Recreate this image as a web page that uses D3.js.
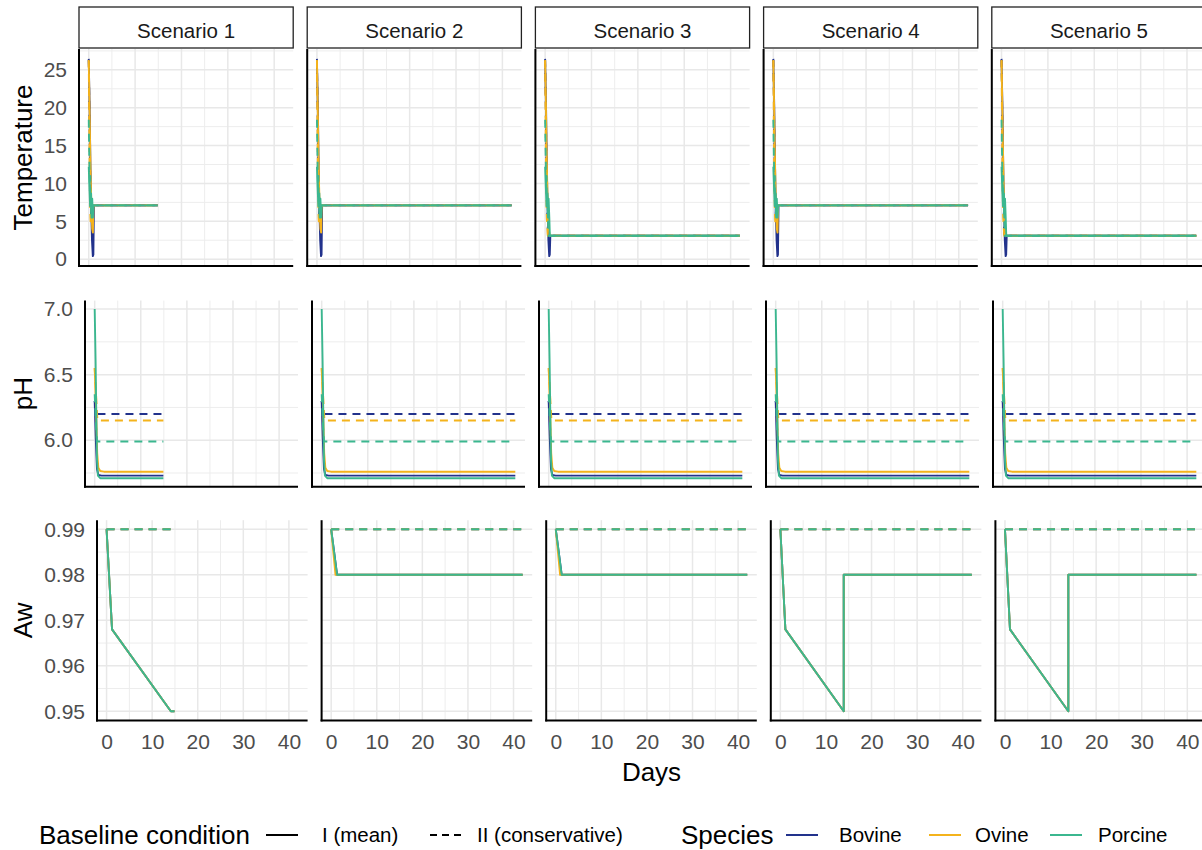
<!DOCTYPE html>
<html><head><meta charset="utf-8">
<script src="https://cdn.jsdelivr.net/npm/d3@7"></script>
<style>
html,body{margin:0;padding:0;background:#fff;}
svg{display:block;font-family:"Liberation Sans",Arial,sans-serif;}
</style></head><body>
<svg id="chart" width="1202" height="850"></svg>
<script>
// ---------------- DATA ----------------
const scenarios = ["Scenario 1","Scenario 2","Scenario 3","Scenario 4","Scenario 5"];
const speciesNames = ["Bovine","Ovine","Porcine"];
const conditionNames = ["I (mean)","II (conservative)"];
const scenarioEndDay = [14.9, 42, 42, 42, 42];
const storageTemp = [7.1, 7.1, 3.1, 7.1, 3.1];

const dayTicks = [0,10,20,30,40];
const tempTicks = [0,5,10,15,20,25];
const phTicks = [6.0,6.5,7.0];
const awTicks = [0.95,0.96,0.97,0.98,0.99];

// Temperature cooling profiles [day, temperature] (before storage)
const tempBovineI   = [[0,26.3],[0.2,20],[0.35,13],[0.5,7.5],[0.7,2.5],[0.88,0.4],[1.0,0.6]];
const tempBovineII  = [[0,26.45],[0.08,23],[0.16,19],[0.24,15],[0.32,11],[0.4,8],[0.48,6]];
const tempOvineI    = [[0,26.2],[0.15,21],[0.3,15],[0.45,10],[0.6,6.5],[0.75,4],[0.9,3.5]];
const tempOvineII   = [[0,26.3],[0.06,22],[0.12,17],[0.2,12],[0.28,8],[0.36,5.5],[0.45,4.5]];
const tempPorcineI  = [[0,12.2],[0.15,9.5],[0.3,7],[0.45,8.5],[0.6,5.5],[0.75,8],[0.9,5.5]];
const tempPorcineII = [[0,18.4],[0.08,15],[0.16,12],[0.24,9],[0.32,11],[0.4,7.5],[0.5,9],[0.6,6]];

// pH decline profiles [day, pH] (final value held to end)
const phBovineI   = [[0,6.3],[0.25,6.0],[0.5,5.78],[0.8,5.735],[1.5,5.73]];
const phBovineII  = [[0,6.3],[0.3,6.22],[0.45,6.2]];
const phOvineI    = [[0,6.55],[0.3,6.25],[0.55,5.9],[0.8,5.79],[1.2,5.765],[2,5.76]];
const phOvineII   = [[0,6.55],[0.3,6.35],[0.6,6.15]];
const phPorcineI  = [[0,7.0],[0.2,6.6],[0.35,6.2],[0.5,5.85],[0.7,5.73],[1.2,5.71]];
const phPorcineII = [[0,6.35],[0.3,6.1],[0.5,6.0],[0.7,5.99]];

// Water activity, mean condition, per scenario [day, aw]
const awMeanS1 = [[0,0.99],[1.2,0.968],[14.1,0.95],[14.9,0.95]];
const awMeanS2 = [[0,0.99],[1.3,0.98],[42,0.98]];
const awMeanS3 = [[0,0.99],[1.3,0.98],[42,0.98]];
const awMeanS4 = [[0,0.99],[1.1,0.968],[13.9,0.95],[13.9,0.98],[42,0.98]];
const awMeanS5 = [[0,0.99],[1.1,0.968],[13.9,0.95],[13.9,0.98],[42,0.98]];
const awOvineS2 = [[0,0.99],[0.95,0.98],[42,0.98]];
const awOvineS3 = [[0,0.99],[0.95,0.98],[42,0.98]];
const awConservative = 0.99;

// ---------------- BUILD SERIES ----------------
function tempSeries(profile, s){
  const st = storageTemp[s], last = profile[profile.length-1][0];
  return profile.concat([[last+0.12, st],[scenarioEndDay[s], st]]);
}
function holdSeries(profile, s){
  const v = profile[profile.length-1][1];
  return profile.concat([[scenarioEndDay[s], v]]);
}
const awMean = [awMeanS1, awMeanS2, awMeanS3, awMeanS4, awMeanS5];
const awOvine = [awMeanS1, awOvineS2, awOvineS3, awMeanS4, awMeanS5];

function seriesFor(rowKey, s){
  const out = [];
  if(rowKey==="temp"){
    const p = [[tempBovineI,tempBovineII],[tempOvineI,tempOvineII],[tempPorcineI,tempPorcineII]];
    p.forEach((pair,sp)=>pair.forEach((prof,c)=>out.push({sp, c, pts: tempSeries(prof,s)})));
  } else if(rowKey==="ph"){
    const p = [[phBovineI,phBovineII],[phOvineI,phOvineII],[phPorcineI,phPorcineII]];
    p.forEach((pair,sp)=>pair.forEach((prof,c)=>out.push({sp, c, pts: holdSeries(prof,s)})));
  } else {
    const cons = [[0,awConservative],[scenarioEndDay[s],awConservative]];
    const means = [awMean[s], awOvine[s], awMean[s]];
    means.forEach((m,sp)=>{ out.push({sp, c:0, pts:m}); out.push({sp, c:1, pts:cons}); });
  }
  return out;
}

// ---------------- LAYOUT / STYLE ----------------
const speciesColors = ["#22328c","#f4b31c","#3bb78f"];
const dashPattern = "8,6";
const rightEdge = 1206, gap = 14;
const rows = [
  {key:"temp", title:"Temperature", top:49,    bottom:266,   left:79, ticks:tempTicks, fmt:d3.format("d")},
  {key:"ph",   title:"pH",          top:300.6, bottom:486.7, left:85, ticks:phTicks,   fmt:d3.format(".1f")},
  {key:"aw",   title:"Aw",          top:520.2, bottom:720.4, left:97, ticks:awTicks,   fmt:d3.format(".2f")}
];

function expand(ext){ const d=(ext[1]-ext[0])*0.05; return [ext[0]-d, ext[1]+d]; }
function minorBreaks(ticks, dom){
  const step = ticks[1]-ticks[0], res=[];
  for(let i=-1;i<ticks.length;i++){ const v = ticks[0]+step*(i+0.5); if(v>dom[0] && v<dom[1]) res.push(v); }
  return res;
}

const svg = d3.select("#chart");
const defs = svg.append("defs");

// x domain from all data
let allDays = [];
rows.forEach(r=>scenarios.forEach((_,s)=>seriesFor(r.key,s).forEach(se=>se.pts.forEach(p=>allDays.push(p[0])))));
const xDomain = expand(d3.extent(allDays));

rows.forEach((row, ri)=>{
  const w = (rightEdge - row.left - 4*gap)/5;
  let vals = [];
  scenarios.forEach((_,s)=>seriesFor(row.key,s).forEach(se=>se.pts.forEach(p=>vals.push(p[1]))));
  const yDomain = expand(d3.extent(vals));
  const y = d3.scaleLinear().domain(yDomain).range([row.bottom, row.top]);
  const yMinor = minorBreaks(row.ticks, yDomain);
  const xMinor = minorBreaks(dayTicks, xDomain);

  scenarios.forEach((scName, s)=>{
    const px = row.left + s*(w+gap);
    const x = d3.scaleLinear().domain(xDomain).range([px, px+w]);
    const g = svg.append("g");
    const clipId = `clip-${ri}-${s}`;
    defs.append("clipPath").attr("id",clipId).append("rect")
      .attr("x",px).attr("y",row.top).attr("width",w).attr("height",row.bottom-row.top);

    // grid
    const grid = g.append("g");
    grid.selectAll(".ymin").data(yMinor).join("line")
      .attr("x1",px).attr("x2",px+w).attr("y1",d=>y(d)).attr("y2",d=>y(d))
      .attr("stroke","#ededed").attr("stroke-width",1);
    grid.selectAll(".xmin").data(xMinor).join("line")
      .attr("y1",row.top).attr("y2",row.bottom).attr("x1",d=>x(d)).attr("x2",d=>x(d))
      .attr("stroke","#ededed").attr("stroke-width",1);
    grid.selectAll(".ymaj").data(row.ticks).join("line")
      .attr("x1",px).attr("x2",px+w).attr("y1",d=>y(d)).attr("y2",d=>y(d))
      .attr("stroke","#e8e8e8").attr("stroke-width",1.5);
    grid.selectAll(".xmaj").data(dayTicks).join("line")
      .attr("y1",row.top).attr("y2",row.bottom).attr("x1",d=>x(d)).attr("x2",d=>x(d))
      .attr("stroke","#e8e8e8").attr("stroke-width",1.5);

    // lines
    const line = d3.line().x(d=>x(d[0])).y(d=>y(d[1]));
    g.append("g").attr("clip-path",`url(#${clipId})`)
      .selectAll("path").data(seriesFor(row.key,s)).join("path")
      .attr("d",d=>line(d.pts)).attr("fill","none")
      .attr("stroke",d=>speciesColors[d.sp]).attr("stroke-width",1.9)
      .attr("stroke-dasharray",d=>d.c===1?dashPattern:null)
      .attr("stroke-linejoin","round");

    // y axis labels on first panel
    if(s===0){
      const ya = d3.axisLeft(y).tickValues(row.ticks).tickFormat(row.fmt).tickSize(0).tickPadding(12);
      const ag = svg.append("g").attr("transform",`translate(${px},0)`).call(ya);
      ag.select(".domain").remove();
      ag.selectAll("text").attr("fill","#4d4d4d").style("font-size","21px").style("font-family","'Liberation Sans',Arial,sans-serif");
      svg.append("text").attr("transform",`translate(32,${(row.top+row.bottom)/2}) rotate(-90)`)
        .attr("text-anchor","middle").style("font-size","26px").attr("fill","#000").text(row.title);
    }
    // x axis labels on bottom row
    if(row.key==="aw"){
      const xa = d3.axisBottom(x).tickValues(dayTicks).tickFormat(d3.format("d")).tickSize(0).tickPadding(14);
      const ag = svg.append("g").attr("transform",`translate(0,${row.bottom})`).call(xa);
      ag.select(".domain").remove();
      ag.selectAll("text").attr("fill","#4d4d4d").style("font-size","21px").style("font-family","'Liberation Sans',Arial,sans-serif");
    }
    // axis lines
    g.append("line").attr("x1",px).attr("x2",px).attr("y1",row.top).attr("y2",row.bottom+1)
      .attr("stroke","#000").attr("stroke-width",2);
    g.append("line").attr("x1",px-1).attr("x2",px+w).attr("y1",row.bottom).attr("y2",row.bottom)
      .attr("stroke","#000").attr("stroke-width",2);

    // strips on top row
    if(ri===0){
      svg.append("rect").attr("x",px).attr("y",7).attr("width",w).attr("height",41)
        .attr("fill","#fff").attr("stroke","#222").attr("stroke-width",1.3);
      svg.append("text").attr("x",px+w/2).attr("y",38).attr("text-anchor","middle")
        .style("font-size","20.5px").attr("fill","#1a1a1a").text(scName);
    }
  });
  if(row.key==="aw"){
    svg.append("text").attr("x",(row.left+rightEdge)/2).attr("y",781).attr("text-anchor","middle")
      .style("font-size","26px").attr("fill","#000").text("Days");
  }
});

// ---------------- LEGEND ----------------
const ly = 835;
const leg = svg.append("g");
function legText(x, txt, fs){
  leg.append("text").attr("x",x).attr("y",ly+0.358*fs).style("font-size",fs+"px").attr("fill","#000").text(txt);
}
function legLine(x1,x2,color,dash){
  leg.append("line").attr("x1",x1).attr("x2",x2).attr("y1",ly).attr("y2",ly)
    .attr("stroke",color).attr("stroke-width",2).attr("stroke-dasharray",dash||null);
}
legText(39,"Baseline condition",26);
legLine(266,298,"#000");
legText(322,conditionNames[0],20.5);
legLine(430,462,"#000","7,5");
legText(477,conditionNames[1],20.5);
legText(681,"Species",26);
const keyX = [786,929,1050], labX = [839,975,1098];
speciesNames.forEach((n,i)=>{ legLine(keyX[i],keyX[i]+32,speciesColors[i]); legText(labX[i],n,20.5); });
</script></body></html>
